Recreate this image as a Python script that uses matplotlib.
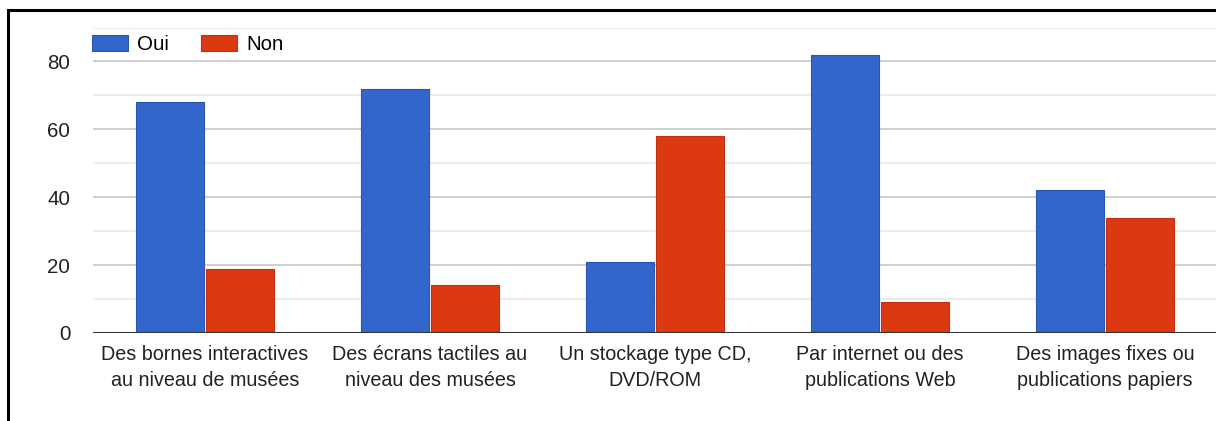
import numpy as np
import matplotlib
matplotlib.use("Agg")
import matplotlib.pyplot as plt
from matplotlib.lines import Line2D
from matplotlib.ticker import MultipleLocator

plt.rcParams['font.family'] = ['Liberation Sans', 'DejaVu Sans']

categories = [
    "Des bornes interactives\nau niveau de musées",
    "Des écrans tactiles au\nniveau des musées",
    "Un stockage type CD,\nDVD/ROM",
    "Par internet ou des\npublications Web",
    "Des images fixes ou\npublications papiers",
]
oui = [68, 72, 21, 82, 42]
non = [19, 14, 58, 9, 34]
series_names = ["Oui", "Non"]

blue = "#3366CC"
red = "#DC3912"

fig = plt.figure(figsize=(12.16, 4.21), dpi=100)
ax = fig.add_axes([92.5 / 1216, 1 - 333 / 421, 1125 / 1216, (333 - 27.5) / 421])

x = np.arange(len(categories))
w = 0.303
ax.bar(x - w / 2 - 0.004, oui, w, color=blue, edgecolor="#2a56b0", linewidth=0.8,
       label=series_names[0], zorder=3)
ax.bar(x + w / 2 + 0.004, non, w, color=red, edgecolor="#c23010", linewidth=0.8,
       label=series_names[1], zorder=3)

ax.set_xlim(-0.5, len(categories) - 0.5)
ax.set_ylim(0, 90)
ax.yaxis.set_major_locator(MultipleLocator(20))
ax.yaxis.set_minor_locator(MultipleLocator(10))
ax.grid(axis="y", which="major", color="#cccccc", linewidth=1.3, zorder=0)
ax.grid(axis="y", which="minor", color="#ebebeb", linewidth=1.3, zorder=0)
ax.axhline(0, color="#333333", linewidth=1.5, zorder=4)

for s in ax.spines.values():
    s.set_visible(False)

ax.set_xticks(x)
ax.set_xticklabels(categories, fontsize=14.2, linespacing=1.4, color="#222222")
ax.tick_params(axis="x", length=0, pad=9)
ax.tick_params(axis="y", which="both", length=0, pad=16, labelsize=14.8, labelcolor="#222222")

fig.legend(loc="center left", bbox_to_anchor=(92 / 1216, 1 - 44.5 / 421),
           ncol=2, frameon=False, fontsize=14.8, handlelength=1.75, handleheight=0.8,
           handletextpad=0.45, columnspacing=1.55, borderpad=0, borderaxespad=0)

# black frame on the left and top edges
fig.add_artist(Line2D([8 / 1216, 8 / 1216], [0, 1 - 10 / 421], color="black",
                      linewidth=2.2, transform=fig.transFigure))
fig.add_artist(Line2D([8 / 1216, 1], [1 - 10 / 421, 1 - 10 / 421], color="black",
                      linewidth=2.2, transform=fig.transFigure))

fig.savefig("out.png", dpi=100)
